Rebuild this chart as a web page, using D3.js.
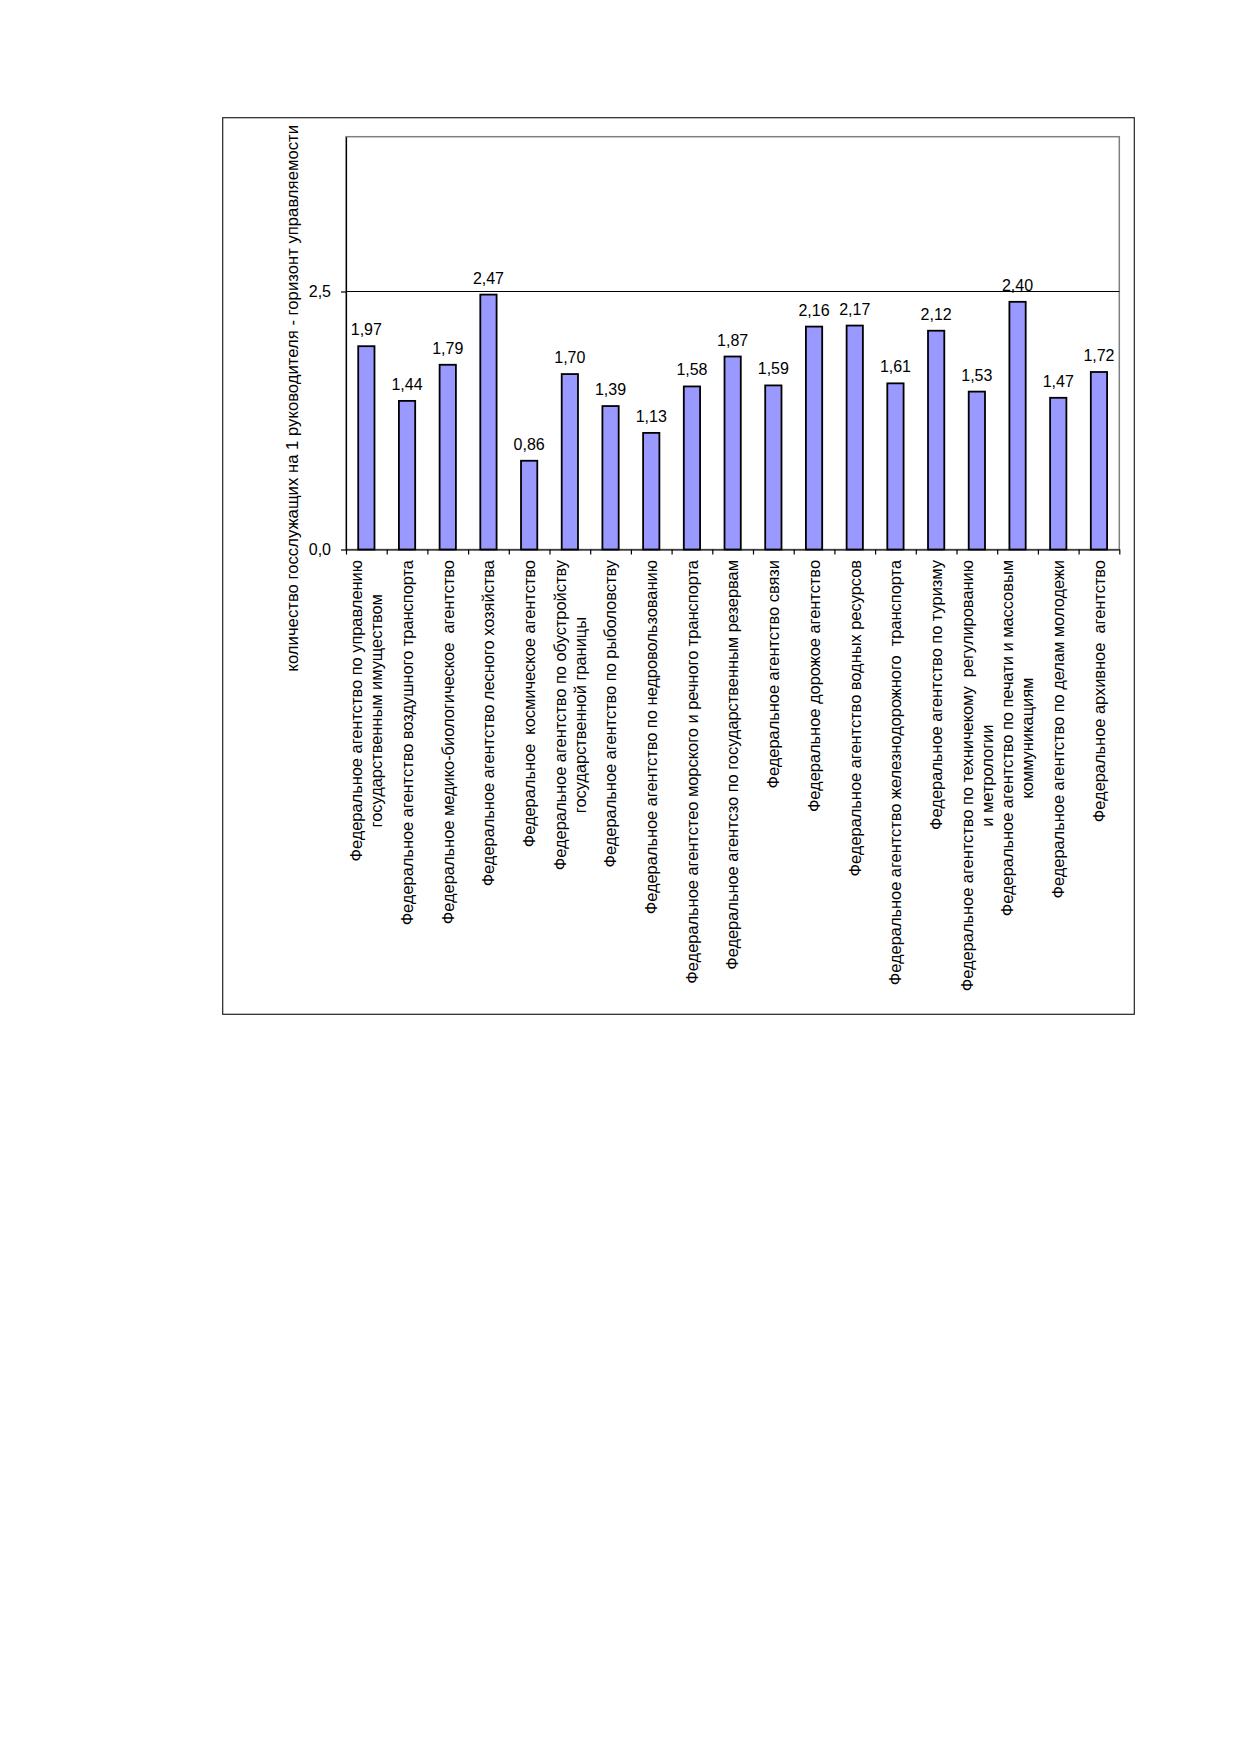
<!DOCTYPE html>
<html>
<head>
<meta charset="utf-8">
<script src="https://cdn.jsdelivr.net/npm/d3@7"></script>
<style>
  body { margin: 0; background: #fff; }
  text { font-family: "Liberation Sans", Arial, sans-serif; fill: #000; white-space: pre; }
</style>
</head>
<body>
<svg id="chart" width="1239" height="1752"></svg>
<script>
// категории (строки подписи)
var categories = [
  ["Федеральное агентство по управлению", "государственным имуществом"],
  ["Федеральное агентство воздушного транспорта"],
  ["Федеральное медико-биологическое  агентство"],
  ["Федеральное агентство лесного хозяйства"],
  ["Федеральное  космическое агентство"],
  ["Федеральное агентство по обустройству", "государственной границы"],
  ["Федеральное агентство по рыболовству"],
  ["Федеральное агентство по недровользованию"],
  ["Федеральное агентстео морского и речного транспорта"],
  ["Федеральное агентсзо по государственным резервам"],
  ["Федеральное агентство связи"],
  ["Федеральное дорожое агентство"],
  ["Федеральное агентство водных ресурсов"],
  ["Федеральное агентство железнодорожного  транспорта"],
  ["Федеральное агентство по туризму"],
  ["Федеральное агентство по техничекому  регулированию", "и метрологии"],
  ["Федеральное агентство по печати и массовым", "коммуникациям"],
  ["Федеральное агентство по делам молодежи"],
  ["Федеральное архивное  агентство"]
]
var values = [1.97, 1.44, 1.79, 2.47, 0.86, 1.70, 1.39, 1.13, 1.58, 1.87,
              1.59, 2.16, 2.17, 1.61, 2.12, 1.53, 2.40, 1.47, 1.72]
var yTicks = [0, 2.5]
var yMax = 4
var yTitle = "количество госслужащих на 1 руководителя - горизонт управляемости"

var svg = d3.select('#chart')
var pLeft = 346, pRight = 1119.3, pTop = 136.7, pBottom = 549.5

var fmt = function(d, p){ return d3.format('.' + p + 'f')(d).replace('.', ',') }

// рамка диаграммы
svg.append('rect')
   .attr('x', 222.7).attr('y', 117.7)
   .attr('width', 1134.3 - 222.7).attr('height', 1014.3 - 117.7)
   .attr('fill', 'none').attr('stroke', '#222').attr('stroke-width', 1.2)

// область построения
svg.append('rect')
   .attr('x', pLeft).attr('y', pTop)
   .attr('width', pRight - pLeft).attr('height', pBottom - pTop)
   .attr('fill', 'none').attr('stroke', '#808080').attr('stroke-width', 1.5)

var x = d3.scaleBand()
          .domain(d3.range(values.length))
          .range([pLeft, pRight])
          .paddingInner(0.6)
          .paddingOuter(0.3)

var y = d3.scaleLinear().domain([0, yMax]).range([pBottom, pTop])

// линия сетки 2,5
svg.selectAll('.grid')
   .data(yTicks.filter(function(d){ return d > 0 }))
   .enter().append('line')
   .attr('x1', pLeft).attr('x2', pRight)
   .attr('y1', function(d){ return y(d) }).attr('y2', function(d){ return y(d) })
   .attr('stroke', '#000').attr('stroke-width', 1.2)

var bars = svg.selectAll('.bar')
   .data(values)
   .enter().append('rect')
   .attr('x', function(d, i){ return x(i) })
   .attr('y', function(d){ return y(d) })
   .attr('width', x.bandwidth())
   .attr('height', function(d){ return y(0) - y(d) })
   .attr('fill', '#9999ff')
   .attr('stroke', '#000')
   .attr('stroke-width', 1.8)

// подписи значений
svg.selectAll('.val')
   .data(values)
   .enter().append('text')
   .attr('x', function(d, i){ return x(i) + x.bandwidth() / 2 })
   .attr('y', function(d){ return y(d) - 11 })
   .attr('text-anchor', 'middle')
   .style('font-size', '16px')
   .text(function(d){ return fmt(d, 2) })

// ось Y
var yAxis = svg.append('g')
   .attr('transform', 'translate(' + pLeft + ',0)')
   .call(d3.axisLeft(y).tickValues(yTicks).tickSize(5).tickSizeOuter(0)
           .tickFormat(function(d){ return fmt(d, 1) }))
yAxis.select('.domain').attr('stroke', '#000').attr('stroke-width', 1.2)
yAxis.selectAll('.tick line').attr('stroke-width', 1.2)
yAxis.selectAll('.tick text')
     .attr('x', -15)
     .style('font-size', '16px')
     .style('font-family', '"Liberation Sans", Arial, sans-serif')

// ось X, засечки на границах категорий
var xLin = d3.scaleLinear().domain([0, values.length]).range([pLeft, pRight])
var xAxis = svg.append('g')
   .attr('transform', 'translate(0,' + pBottom + ')')
   .call(d3.axisBottom(xLin).tickValues(d3.range(values.length + 1))
           .tickFormat('').tickSize(5).tickSizeOuter(0))
xAxis.select('.domain').attr('stroke', '#000').attr('stroke-width', 1.2)
xAxis.selectAll('.tick line').attr('stroke-width', 1.2)

// подписи категорий (повернуты)
var lh = 20
var labels = svg.selectAll('.cat')
   .data(categories)
   .enter().append('g')
   .attr('transform', function(d, i){
      return 'translate(' + (x(i) + x.bandwidth() / 2) + ',560) rotate(-90)' })

labels.each(function(lines){
   var g = d3.select(this)
   var n = lines.length
   var t = g.selectAll('text').data(lines).enter().append('text')
      .attr('y', function(d, j){ return (j - (n - 1) / 2) * lh })
      .attr('dy', '0.35em')
      .attr('text-anchor', 'middle')
      .style('font-size', '16.4px')
      .text(function(d){ return d })
   var maxW = d3.max(t.nodes(), function(nd){ return nd.getComputedTextLength() })
   t.attr('x', -maxW / 2)
})

// подпись оси Y
svg.append('text')
   .attr('transform', 'translate(292,125) rotate(-90)')
   .attr('dy', '0.35em')
   .attr('text-anchor', 'end')
   .style('font-size', '16.7px')
   .text(yTitle)
</script>
</body>
</html>
